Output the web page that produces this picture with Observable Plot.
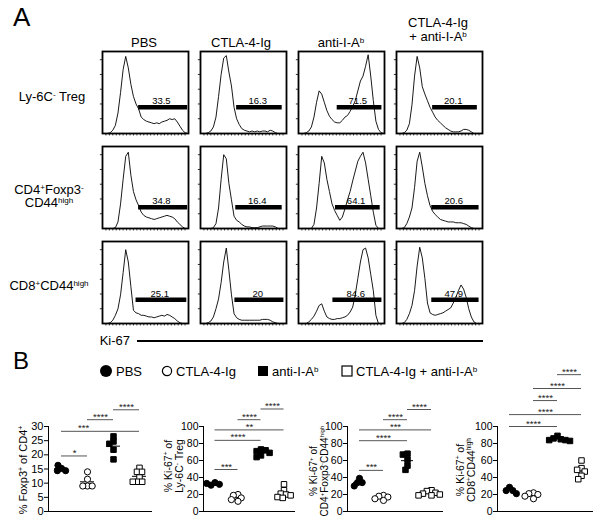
<!DOCTYPE html>
<html><head><meta charset="utf-8">
<script src="https://cdn.jsdelivr.net/npm/d3@7"></script>
<script src="https://cdn.jsdelivr.net/npm/@observablehq/plot@0.6"></script>
<style>
body{margin:0;background:#fff;}
#fig{position:relative;width:601px;height:527px;font-family:"Liberation Sans",Arial,sans-serif;color:#000;overflow:hidden;background:#fff}
.abs{position:absolute;white-space:nowrap}
.c{transform:translate(-50%,-50%);text-align:center}
.lbl{font-size:13px;line-height:14px}
sup{font-size:0.62em;vertical-align:0.55em;line-height:0}
.rot{transform:translate(-50%,-50%) rotate(-90deg);text-align:center;font-size:10.5px;line-height:11px}
</style></head>
<body><div id="fig"></div>
<script>
// ---------- DATA ----------
const treatments = ["PBS", "CTLA-4-Ig", "anti-I-Ab", "CTLA-4-Ig + anti-I-Ab"];
const populations = ["Ly-6C- Treg", "CD4+Foxp3-CD44high", "CD8+CD44high"];
const binX = [0,3,6,9,12,15,18,21,24,27,30,33,36,39,42,45,48,51,54,57,60,63,66,69,72,75,78,81,84,87,90,93,96,99];

// Ki-67 histograms (relative counts, % of panel height)
const tregPBS   = [0,0,0,1,4,10,25,50,78,94,80,60,45,36,30,20,17,15,14,13,12,13,12,14,15,16,18,17,18,14,9,4,1,0];
const tregCTLA  = [0,0,0,1,3,8,20,45,72,92,95,75,58,32,18,11,6,4,3,2,3,2,3,2,3,3,2,4,3,1,0,0,0,0];
const tregAnti  = [0,0,0,1,3,8,20,38,52,48,38,28,21,17,14,13,13,16,20,22,27,33,40,52,64,70,82,96,70,40,15,5,1,0];
const tregCombo = [0,0,0,1,4,12,35,70,94,80,57,48,40,32,26,20,16,13,10,7,5,3,2,2,2,3,5,5,4,2,0,0,0,0];
const cd4PBS    = [0,0,0,0,0,1,8,30,60,88,93,65,45,35,28,20,16,14,13,12,11,12,13,14,15,16,15,14,12,8,5,2,0,0];
const cd4CTLA   = [0,0,0,0,0,1,6,25,60,90,85,55,35,15,10,8,5,3,2,2,1,1,1,2,3,3,3,3,3,2,0,0,0,0];
const cd4Anti   = [0,0,0,0,0,0,5,25,55,88,80,60,45,30,22,16,10,14,24,35,45,58,70,82,88,93,80,60,40,20,4,0,0,0];
const cd4Combo  = [0,0,0,1,6,14,25,50,82,93,75,55,40,28,21,17,14,11,10,9,8,8,8,7,7,7,6,5,3,1,0,0,0,0];
const cd8PBS    = [0,0,0,1,4,10,18,35,62,90,75,45,16,13,12,10,10,9,8,8,7,8,9,10,9,11,10,8,6,3,1,0,0,0];
const cd8CTLA   = [0,0,0,1,3,8,18,30,50,75,92,65,35,12,7,5,4,4,4,4,4,4,4,4,5,5,5,4,2,1,0,0,0,0];
const cd8Anti   = [0,0,0,0,2,5,9,15,22,24,15,8,6,5,5,6,6,7,8,10,14,20,35,55,75,90,92,80,60,40,10,0,0,0];
const cd8Combo  = [0,0,0,1,5,12,22,40,70,93,80,55,25,13,11,10,11,12,13,15,17,19,25,32,40,47,42,32,18,8,2,0,0,0];

// Ki-67 gates
const gateLabels = [["33.5","16.3","71.5","20.1"],["34.8","16.4","64.1","20.6"],["25.1","20","84.6","47.9"]];
const gateStart  = [[42,42,45,42],[42,41,43,41],[39,40,40,41]];
const gateEnd    = [[99,95,97,94],[99,95,95,96],[98,97,97,96]];
const gateLevel  = [32,26,29];

// panel B values
const foxp3PBS = [15.2,14.4,14.4,16.3];
const foxp3CTLA = [14.0,11.4,9.0,9.0,9.0];
const foxp3Anti = [24.7,23.9,26.5,21.8,18.4];
const foxp3Combo = [15.4,14.0,14.0,12.0,10.5,10.5,10.5];
const tregKiPBS = [34,31,32,33];
const tregKiCTLA = [20,19,16,12,14];
const tregKiAnti = [73,71,72,69,66,64];
const tregKiCombo = [32,25,21,20,19,17,16];
const cd4KiPBS = [39,34,34,30];
const cd4KiCTLA = [19,18,17,15,13];
const cd4KiAnti = [68,67,61,54,49];
const cd4KiCombo = [25,24,22,21,20,19,19];
const cd8KiPBS = [28.5,24.6,24.6,21];
const cd8KiCTLA = [22,21,20,18,15];
const cd8KiAnti = [89,86,85,84,84,83];
const cd8KiCombo = [60,51,49,47,42,38];

const foxp3Ticks = [0,5,10,15,20,25,30];
const kiTicks = [0,20,40,60,80,100];
const histXTicks = [4,8,12,16,20,24,28,32,36,40,44,48,52,56,60,64,68,72,76,80,84,88,92,96];
const histYTicks = [18,36,54,72,90];

// significance brackets: [from group, to group, level, stars, label position]
const sigFoxp3 = [[0,1,19.6,"*",0.5],[0,3,28.3,"***",0.85],[1,2,32.4,"****",1.5],[2,3,35.9,"****",2.5]];
const sigTreg  = [[0,1,49.4,"***",0.5],[0,2,83.7,"****",1],[0,3,96,"**",1.5],[1,2,108,"****",1.5],[2,3,120.6,"****",2.5]];
const sigCD4   = [[0,1,48.4,"***",0.5],[0,2,83.3,"****",1],[0,3,96,"***",1.5],[1,2,108,"****",1.5],[2,3,120,"****",2.5]];
const sigCD8   = [[0,2,100,"****",1],[0,3,114,"****",1.5],[1,2,130.5,"****",1.5],[1,3,144.7,"****",2],[2,3,161,"****",2.5]];

// ---------- HELPERS ----------
const FONT = "'Liberation Sans', Arial, sans-serif";
const fig = document.getElementById("fig");
function place(node, left, top) {
  const w = document.createElement("div");
  w.className = "abs"; w.style.left = left + "px"; w.style.top = top + "px";
  w.appendChild(node); fig.appendChild(w);
}
function text(html, left, top, cls, style) {
  const d = document.createElement("div");
  d.className = "abs " + (cls || "");
  d.innerHTML = html; d.style.left = left + "px"; d.style.top = top + "px";
  if (style) Object.assign(d.style, style);
  fig.appendChild(d);
  return d;
}

// ---------- PANEL A : histograms ----------
const histSeries = [[tregPBS,tregCTLA,tregAnti,tregCombo],[cd4PBS,cd4CTLA,cd4Anti,cd4Combo],[cd8PBS,cd8CTLA,cd8Anti,cd8Combo]];
const histTable = [];
const gateTable = [];
populations.forEach((p, r) => treatments.forEach((t, c) => {
  histSeries[r][c].forEach((y, i) => histTable.push({pop: p, trt: t, x: binX[i], y}));
  gateTable.push({pop: p, trt: t, x1: gateStart[r][c], x2: gateEnd[r][c], y: gateLevel[r], label: gateLabels[r][c]});
}));

const hist = Plot.plot({
  width: 388, height: 283,
  marginLeft: 4, marginRight: 3, marginTop: 2, marginBottom: 6,
  style: {fontFamily: FONT, overflow: "visible", background: "transparent"},
  fx: {domain: treatments, paddingInner: 0.125, paddingOuter: 0, axis: null},
  fy: {domain: populations, paddingInner: 0.135, paddingOuter: 0, axis: null},
  x: {domain: [0, 100], axis: null},
  y: {domain: [0, 100], axis: null},
  marks: [
    Plot.ruleX(histXTicks, {x: d => d, y1: 0, y2: -3, strokeWidth: 0.8}),
    Plot.ruleY(histYTicks, {y: d => d, x1: 0, x2: -2.5, strokeWidth: 0.8}),
    Plot.line(histTable, {fx: "trt", fy: "pop", x: "x", y: "y", stroke: "black", strokeWidth: 0.9}),
    Plot.ruleY(gateTable, {fx: "trt", fy: "pop", y: "y", x1: "x1", x2: "x2", stroke: "black", strokeWidth: 4.5}),
    Plot.text(gateTable, {fx: "trt", fy: "pop", x: d => (d.x1 + d.x2) / 2 - 2, y: "y", text: "label", lineAnchor: "bottom", dy: -3, fontSize: 9.5, fill: "black"}),
    Plot.frame({stroke: "black", strokeWidth: 1.8})
  ]
});
place(hist, 97, 48);

// Panel A text
text("A", 13, 4, "", {fontSize: "26px", lineHeight: "26px"});
text("PBS", 144, 43, "c lbl");
text("CTLA-4-Ig", 241, 43, "c lbl");
text("anti-I-A<sup>b</sup>", 341, 43, "c lbl");
text("CTLA-4-Ig", 438, 23, "c lbl");
text("+ anti-I-A<sup>b</sup>", 438, 37, "c lbl");
text("Ly-6C<sup>-</sup> Treg", 52, 97, "c lbl");
text("CD4<sup>+</sup>Foxp3<sup>-</sup>", 49, 190, "c lbl");
text("CD44<sup>high</sup>", 49, 203, "c lbl");
text("CD8<sup>+</sup>CD44<sup>high</sup>", 49, 286, "c lbl");
text("Ki-67", 130, 341, "lbl", {transform: "translate(-100%,-50%)"});
text("", 137, 340, "", {width: "346px", height: "2px", background: "#000"});

// ---------- PANEL B ----------
text("B", 13, 349, "", {fontSize: "24px", lineHeight: "24px"});

// legend
const legend = document.createElement("div");
legend.className = "abs";
legend.style.cssText = "left:99px;top:363px;height:16px;display:flex;align-items:center;font-size:13px;";
const legendItems = [
  {svg: '<svg width="14" height="14"><circle cx="7" cy="7" r="6" fill="#000"/></svg>', label: "PBS", w: 62},
  {svg: '<svg width="12" height="12"><circle cx="6" cy="6" r="4.6" fill="#fff" stroke="#000" stroke-width="1.2"/></svg>', label: "CTLA-4-Ig", w: 96},
  {svg: '<svg width="12" height="12"><rect x="1" y="1" width="10" height="10" fill="#000"/></svg>', label: "anti-I-A<sup>b</sup>", w: 84},
  {svg: '<svg width="12" height="12"><rect x="1" y="1" width="10" height="10" fill="#fff" stroke="#000" stroke-width="1.2"/></svg>', label: "CTLA-4-Ig + anti-I-A<sup>b</sup>", w: 140}
];
legendItems.forEach(it => {
  const s = document.createElement("span");
  s.style.cssText = `display:inline-flex;align-items:center;width:${it.w}px;white-space:nowrap`;
  s.innerHTML = it.svg + `<span style="margin-left:3px">${it.label}</span>`;
  legend.appendChild(s);
});
fig.appendChild(legend);

const symbolRange = ["circle", "circle", "square", "square"];
const fillRange = ["black", "white", "black", "white"];

function scatter({values, ticks, ymax, sig, width, marginLeft, marginRight, tickFont}) {
  const data = [];
  treatments.forEach((g, i) => values[i].forEach(v => data.push({group: g, value: v})));
  const bars = sig.map(b => ({fx: treatments[0], x1: b[0], x2: b[1], y: b[2], label: b[3], lx: b[4]}));
  return Plot.plot({
    width, height: 165, marginLeft, marginRight, marginTop: 71, marginBottom: 9,
    style: {fontFamily: FONT, fontSize: "11px", overflow: "visible", background: "transparent"},
    fx: {domain: treatments, padding: 0, axis: null},
    x: {domain: [-0.5, 0.5], axis: null},
    y: {domain: [0, ymax], axis: null},
    symbol: {domain: treatments, range: symbolRange},
    color: {domain: treatments, range: fillRange},
    marks: [
      Plot.axisY(ticks, {tickSize: 4, tickPadding: 1, label: null, fontSize: tickFont, facetAnchor: "left"}),
      Plot.ruleX([-0.5], {facetAnchor: "left", stroke: "black", strokeWidth: 1}),
      Plot.ruleY([0], {stroke: "black", strokeWidth: 1}),
      Plot.ruleY(data, Plot.groupZ({y: "mean"}, {fx: "group", y: "value", insetLeft: 6, insetRight: 6, stroke: "black", strokeWidth: 1})),
      Plot.dot(data, Plot.dodgeX({anchor: "middle", padding: -1.5}, {fx: "group", y: "value", r: 3.1, symbol: "group", fill: "group", stroke: "black", strokeWidth: 1})),
      Plot.ruleY(bars, {fx: "fx", y: "y", x1: "x1", x2: "x2", stroke: "#555", strokeWidth: 1}),
      Plot.text(bars, {fx: "fx", x: "lx", y: "y", text: "label", lineAnchor: "bottom", dy: 0, fontSize: 9.5, fill: "#222"})
    ]
  });
}

place(scatter({values: [foxp3PBS, foxp3CTLA, foxp3Anti, foxp3Combo], ticks: foxp3Ticks, ymax: 30, sig: sigFoxp3, width: 160, marginLeft: 47, marginRight: 8, tickFont: 11}), 0, 355);
place(scatter({values: [tregKiPBS, tregKiCTLA, tregKiAnti, tregKiCombo], ticks: kiTicks, ymax: 100, sig: sigTreg, width: 150, marginLeft: 52, marginRight: 5, tickFont: 10.5}), 150, 355);
place(scatter({values: [cd4KiPBS, cd4KiCTLA, cd4KiAnti, cd4KiCombo], ticks: kiTicks, ymax: 100, sig: sigCD4, width: 150, marginLeft: 47, marginRight: 7, tickFont: 10.5}), 300, 355);
place(scatter({values: [cd8KiPBS, cd8KiCTLA, cd8KiAnti, cd8KiCombo], ticks: kiTicks, ymax: 100, sig: sigCD8, width: 151, marginLeft: 47, marginRight: 8, tickFont: 10.5}), 450, 355);

// y-axis titles
text("% Foxp3<sup>+</sup> of CD4<sup>+</sup>", 23, 470, "rot", {fontSize: "11px"});
text("% Ki-67<sup>+</sup> of<br>Ly-6C<sup>-</sup> Treg", 174, 466, "rot");
text("% Ki-67<sup>+</sup> of<br>CD4<sup>+</sup>Foxp3<sup>-</sup>CD44<sup>high</sup>", 319, 471, "rot", {fontSize: "10px", lineHeight: "10.5px"});
text("% Ki-67<sup>+</sup> of<br>CD8<sup>+</sup>CD44<sup>high</sup>", 466, 470, "rot");
</script>
</body></html>
